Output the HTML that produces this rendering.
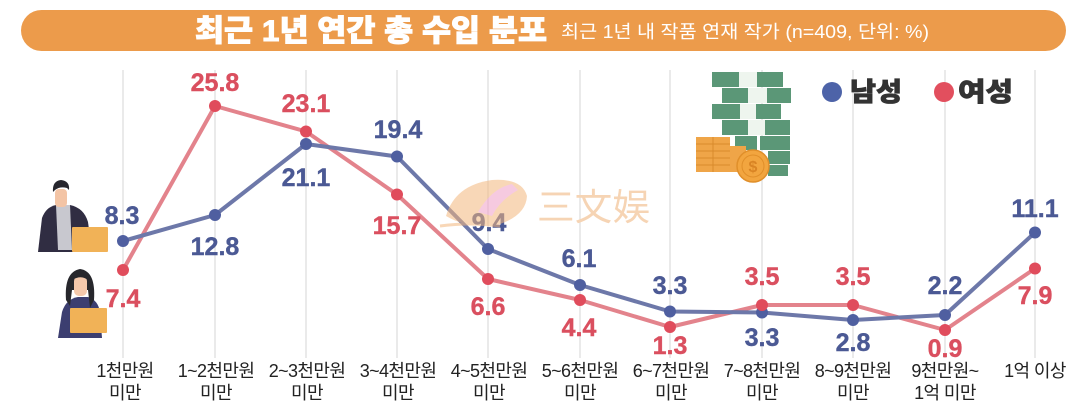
<!DOCTYPE html>
<html lang="ko">
<head>
<meta charset="utf-8">
<style>
  html,body{margin:0;padding:0;background:#fff;}
  body{width:1080px;height:408px;overflow:hidden;}
  svg{display:block;}
  .lbl{font-family:"Liberation Sans","Noto Sans CJK KR",sans-serif;font-weight:bold;font-size:25px;text-anchor:middle;stroke-width:0.4px;}
  .b{fill:#4b5994;stroke:#4b5994;}
  .r{fill:#da4f5f;stroke:#da4f5f;}
  .xl{font-family:"Liberation Sans","Noto Sans CJK KR",sans-serif;font-size:18px;fill:#222;text-anchor:middle;letter-spacing:-0.6px;}
</style>
</head>
<body>
<svg width="1080" height="408" viewBox="0 0 1080 408" xmlns="http://www.w3.org/2000/svg">
  <!-- title bar -->
  <rect x="21" y="10" width="1045" height="41" rx="20.5" fill="#ec9b4b"/>
  <text x="195" y="41" font-family="Liberation Sans,'Noto Sans CJK KR',sans-serif" font-size="30" font-weight="900" fill="#fff" stroke="#fff" stroke-width="0.9" textLength="352" lengthAdjust="spacingAndGlyphs">최근 1년 연간 총 수입 분포</text>
  <text x="561" y="38" font-family="Liberation Sans,'Noto Sans CJK KR',sans-serif" font-size="18" fill="#fff" textLength="368" lengthAdjust="spacingAndGlyphs">최근 1년 내 작품 연재 작가 (n=409, 단위: %)</text>

  <!-- gridlines -->
  <g stroke="#dcdcdc" stroke-width="1.2">
    <line x1="123" y1="70" x2="123" y2="358"/>
    <line x1="215" y1="70" x2="215" y2="358"/>
    <line x1="306" y1="70" x2="306" y2="358"/>
    <line x1="397" y1="70" x2="397" y2="358"/>
    <line x1="488" y1="70" x2="488" y2="358"/>
    <line x1="580" y1="70" x2="580" y2="358"/>
    <line x1="670" y1="70" x2="670" y2="358"/>
    <line x1="762" y1="70" x2="762" y2="358"/>
    <line x1="853" y1="70" x2="853" y2="358"/>
    <line x1="945" y1="70" x2="945" y2="358"/>
    <line x1="1035" y1="70" x2="1035" y2="358"/>
  </g>

  <!-- money icon -->
  <g fill="#5b9777">
    <rect x="712" y="72" width="27" height="15"/>
    <rect x="757" y="72" width="26" height="15"/>
    <rect x="722" y="88" width="26" height="15"/>
    <rect x="767" y="88" width="24" height="15"/>
    <rect x="712" y="104" width="28" height="15"/>
    <rect x="756" y="104" width="25" height="15"/>
    <rect x="722" y="120" width="26" height="15"/>
    <rect x="765" y="120" width="25" height="15"/>
    <rect x="735" y="136" width="22" height="14"/>
    <rect x="760" y="136" width="30" height="14"/>
    <rect x="768" y="151" width="22" height="13"/>
    <rect x="768" y="165" width="20" height="11"/>
  </g>
  <g fill="#eef5ee">
    <rect x="739" y="72" width="18" height="15"/>
    <rect x="748" y="88" width="19" height="15"/>
    <rect x="740" y="104" width="16" height="15"/>
    <rect x="748" y="120" width="17" height="15"/>
  </g>
  <g>
    <rect x="696" y="137" width="34" height="35" fill="#efa548"/>
    <rect x="730" y="146" width="16" height="26" fill="#efa548"/>
    <g stroke="#d98a2c" stroke-width="1">
      <line x1="696" y1="144" x2="730" y2="144"/>
      <line x1="696" y1="151" x2="730" y2="151"/>
      <line x1="696" y1="158" x2="730" y2="158"/>
      <line x1="696" y1="165" x2="730" y2="165"/>
      <line x1="713" y1="137" x2="713" y2="172"/>
    </g>
    <circle cx="753" cy="166" r="16" fill="#f2a53f" stroke="#e08f2a" stroke-width="1.5"/>
    <circle cx="753" cy="166" r="11" fill="none" stroke="#e08f2a" stroke-width="1"/>
    <text x="753" y="172" font-family="Liberation Sans,sans-serif" font-size="16" font-weight="bold" fill="#d98424" text-anchor="middle">$</text>
  </g>

  <!-- legend -->
  <circle cx="832" cy="92" r="10" fill="#4d63a8"/>
  <text x="850" y="101" font-family="Liberation Sans,'Noto Sans CJK KR',sans-serif" font-size="26" font-weight="900" fill="#333" stroke="#333" stroke-width="0.8" textLength="52" lengthAdjust="spacingAndGlyphs">남성</text>
  <circle cx="944" cy="92" r="10" fill="#e24f5e"/>
  <text x="958" y="101" font-family="Liberation Sans,'Noto Sans CJK KR',sans-serif" font-size="26" font-weight="900" fill="#333" stroke="#333" stroke-width="0.8" textLength="55" lengthAdjust="spacingAndGlyphs">여성</text>

  <!-- people icons -->
  <!-- man -->
  <g>
    <path d="M38 252 L42 218 Q46 207 56 205 L70 205 Q84 208 88 222 L92 252 Z" fill="#302d42"/>
    <path d="M56 205 L70 205 L72 250 L58 250 Z" fill="#c8c8cf"/>
    <rect x="55" y="189" width="12" height="18" rx="4" fill="#f3c4a5"/>
    <path d="M53 192 Q52 181 61 180 Q70 181 69 190 L67 188 Q60 186 55 190 Z" fill="#26262d"/>
    <rect x="72" y="227" width="36" height="25" rx="1" fill="#f1b257"/>
  </g>
  <!-- woman -->
  <g>
    <path d="M58 338 L62 312 Q66 299 78 297 L88 297 Q98 300 100 312 L102 338 Z" fill="#3c3e70"/>
    <path d="M66 300 Q64 272 80 269 Q96 271 94 300 L90 308 L88 290 L72 290 L70 306 Z" fill="#27272c"/>
    <rect x="74" y="276" width="13" height="20" rx="5" fill="#f4c8ab"/>
    <path d="M72 280 Q74 270 81 270 Q89 271 89 281 Q82 274 72 280 Z" fill="#27272c"/>
    <rect x="70" y="308" width="37" height="25" rx="1" fill="#f1b257"/>
  </g>

  <!-- lines -->
  <polyline fill="none" stroke="#e3838c" stroke-width="4" stroke-linejoin="round"
    points="123,270 215,106 306,131.5 397,194.5 488,279 580,300 670,327 762,305 853,305 945,330 1035,268.5"/>
  <polyline fill="none" stroke="#6d78a9" stroke-width="4" stroke-linejoin="round"
    points="123,241 215,215 306,144 397,156.5 488,249 580,285 670,311.5 762,312.5 853,320 945,315 1035,232.5"/>

  <!-- dots -->
  <g fill="#4f5fa0">
    <circle cx="123" cy="241" r="6"/>
    <circle cx="215" cy="215" r="6"/>
    <circle cx="306" cy="144" r="6"/>
    <circle cx="397" cy="156.5" r="6"/>
    <circle cx="488" cy="249" r="6"/>
    <circle cx="580" cy="285" r="6"/>
    <circle cx="670" cy="311.5" r="6"/>
    <circle cx="762" cy="312.5" r="6"/>
    <circle cx="853" cy="320" r="6"/>
    <circle cx="945" cy="315" r="6"/>
    <circle cx="1035" cy="232.5" r="6"/>
  </g>
  <g fill="#e04c5c">
    <circle cx="123" cy="270" r="6"/>
    <circle cx="215" cy="106" r="6"/>
    <circle cx="306" cy="131.5" r="6"/>
    <circle cx="397" cy="194.5" r="6"/>
    <circle cx="488" cy="279" r="6"/>
    <circle cx="580" cy="300" r="6"/>
    <circle cx="670" cy="327" r="6"/>
    <circle cx="762" cy="305" r="6"/>
    <circle cx="853" cy="305" r="6"/>
    <circle cx="945" cy="330" r="6"/>
    <circle cx="1035" cy="268.5" r="6"/>
  </g>

  <!-- data labels -->
  <text class="lbl r" x="215" y="91">25.8</text>
  <text class="lbl r" x="306" y="112">23.1</text>
  <text class="lbl b" x="398" y="138">19.4</text>
  <text class="lbl b" x="122" y="224">8.3</text>
  <text class="lbl r" x="123" y="307">7.4</text>
  <text class="lbl b" x="215" y="255">12.8</text>
  <text class="lbl b" x="306" y="186">21.1</text>
  <text class="lbl r" x="397" y="234">15.7</text>
  <text class="lbl b" x="489" y="231">9.4</text>
  <text class="lbl r" x="488" y="315">6.6</text>
  <text class="lbl b" x="579" y="267">6.1</text>
  <text class="lbl r" x="579" y="336">4.4</text>
  <text class="lbl b" x="670" y="294">3.3</text>
  <text class="lbl r" x="670" y="354">1.3</text>
  <text class="lbl r" x="762" y="285">3.5</text>
  <text class="lbl b" x="762" y="346">3.3</text>
  <text class="lbl r" x="853" y="285">3.5</text>
  <text class="lbl b" x="853" y="351">2.8</text>
  <text class="lbl b" x="945" y="294">2.2</text>
  <text class="lbl r" x="945" y="357">0.9</text>
  <text class="lbl b" x="1035" y="217">11.1</text>
  <text class="lbl r" x="1035" y="304">7.9</text>

  <!-- watermark -->
  <g opacity="0.55">
    <path d="M446 216 Q455 185 492 180 Q522 178 527 196 Q526 215 500 224 Q470 230 446 216 Z" fill="#f4b77e"/>
    <path d="M478 212 Q492 188 512 184 L518 190 Q500 200 492 216 Z" fill="#f0a0c8"/>
    <path d="M440 226 Q470 222 500 226" stroke="#f4b77e" stroke-width="3" fill="none"/>
  </g>
  <text x="537" y="220" font-family="'Noto Sans CJK SC','WenQuanYi Zen Hei',sans-serif" font-size="37" fill="#f6d4b4" textLength="113" lengthAdjust="spacingAndGlyphs">三文娱</text>

  <!-- x labels -->
  <text class="xl" x="125" y="377">1천만원</text>
  <text class="xl" x="125" y="399">미만</text>
  <text class="xl" x="216" y="377">1~2천만원</text>
  <text class="xl" x="216" y="399">미만</text>
  <text class="xl" x="307" y="377">2~3천만원</text>
  <text class="xl" x="307" y="399">미만</text>
  <text class="xl" x="398" y="377">3~4천만원</text>
  <text class="xl" x="398" y="399">미만</text>
  <text class="xl" x="489" y="377">4~5천만원</text>
  <text class="xl" x="489" y="399">미만</text>
  <text class="xl" x="580" y="377">5~6천만원</text>
  <text class="xl" x="580" y="399">미만</text>
  <text class="xl" x="671" y="377">6~7천만원</text>
  <text class="xl" x="671" y="399">미만</text>
  <text class="xl" x="762" y="377">7~8천만원</text>
  <text class="xl" x="762" y="399">미만</text>
  <text class="xl" x="853" y="377">8~9천만원</text>
  <text class="xl" x="853" y="399">미만</text>
  <text class="xl" x="945" y="377">9천만원~</text>
  <text class="xl" x="945" y="399">1억 미만</text>
  <text class="xl" x="1035" y="377">1억 이상</text>
</svg>
</body>
</html>
